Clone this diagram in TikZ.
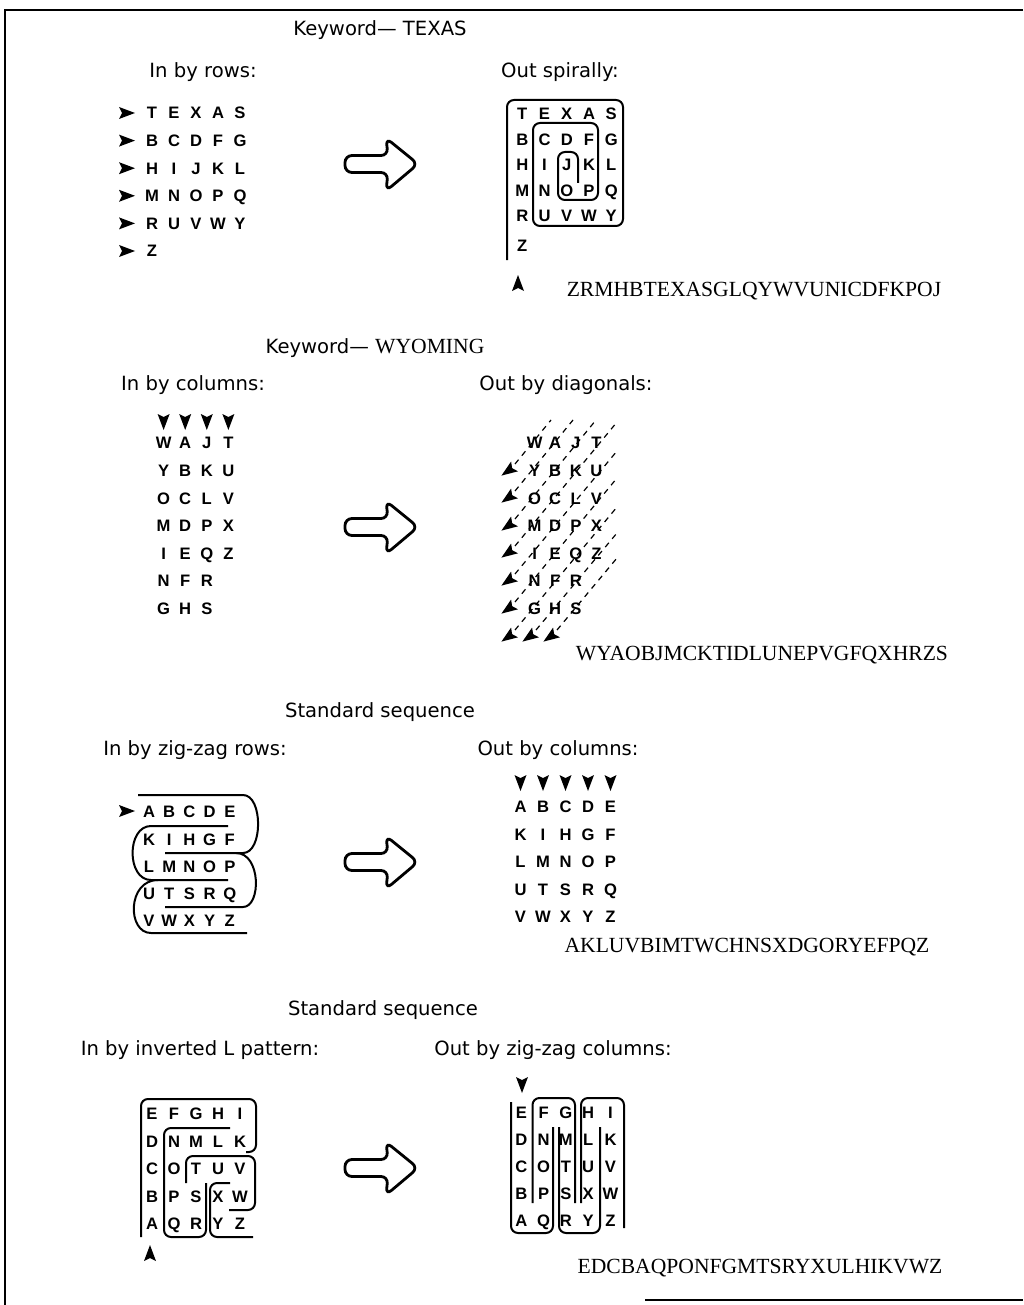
\documentclass[tikz,border=0pt]{standalone}
\usepackage{fontspec}
\setmainfont{DejaVu Sans}
\newfontfamily\gridfont{Liberation Sans}
\newfontfamily\outfont{Liberation Serif}

\begin{document}
\begin{tikzpicture}[x=0.5pt,y=-0.5pt,
  ltr/.style={font=\gridfont\bfseries\fontsize{8.3}{8}\selectfont, inner sep=0pt, text height=5.9pt, text depth=0pt},
  lbl/.style={font=\fontsize{9.8}{11}\selectfont, inner sep=0pt},
  outtxt/.style={font=\outfont\fontsize{10.8}{12}\selectfont, inner sep=0pt},
  band/.style={line width=1pt, rounded corners=3.5pt},
  diag/.style={line width=0.6pt, dash pattern=on 2.8pt off 2.6pt},
  arrowtip/.pic={\fill (-8,-6) -- (8,0) -- (-8,6) -- (-5,0) -- cycle;},
  bigarrow/.pic={\draw[line width=1.4pt, rounded corners=3.5pt] (8,-8.5) -- (-35,-8.5) -- (-35,8.5) -- (8,8.5) -- (6,27) -- (38,0) -- (6,-26) -- cycle;}
]
\useasboundingbox (0,0) rectangle (1023,1305);
% Frame
\draw[line width=1pt] (1023,10) -- (5,10) -- (5,1305);
\draw[line width=1pt] (645,1300) -- (1023,1300);

% Keyword TEXAS
\node[lbl] (kw1) at (380,30) {Keyword— TEXAS};
\node[lbl] (in1) at (203,72) {In by rows:};
\node[lbl] (out1) at (560,72) {Out spirally:};
\foreach \row [count=\i] in {{T,E,X,A,S},{B,C,D,F,G},{H,I,J,K,L},{M,N,O,P,Q},{R,U,V,W,Y},{Z}} {
  \pic at (127,{85.4+27.6*\i}) {arrowtip};
  \foreach \ch [count=\j] in \row
    \node[ltr] (ra-\i-\j) at ({130+22*\j},{85.4+27.6*\i}) {\ch};
}
\foreach \row [count=\i] in {{T,E,X,A,S},{B,C,D,F,G},{H,I,J,K,L},{M,N,O,P,Q},{R,U,V,W,Y}}
  \foreach \ch [count=\j] in \row
    \node[ltr] (sp-\i-\j) at ({500+22.25*\j},{88.5+25.5*\i}) {\ch};
\node[ltr] (sp-6-1) at (522.25,246) {Z};
% spiral
\draw[band] (507,260) -- (507,100) -- (623,100) -- (623,226) -- (533,226) -- (533,123) -- (598,123) -- (598,200) -- (558,200) -- (558,152) -- (578,152) -- (578,183);
\pic[rotate=90] at (518,283) {arrowtip};
\pic at (380,164) {bigarrow};
\node[outtxt] (res1) at (754,291) {ZRMHBTEXASGLQYWVUNICDFKPOJ};

% Keyword WYOMING
\node[lbl] (kw2) at (375,348) {Keyword— {\outfont\fontsize{10.8}{12}\selectfont WYOMING}};
\node[lbl] (in2) at (193,385) {In by columns:};
\node[lbl] (out2) at (566,385) {Out by diagonals:};
\foreach \row [count=\i] in {{W,A,J,T},{Y,B,K,U},{O,C,L,V},{M,D,P,X},{I,E,Q,Z},{N,F,R},{G,H,S}} {
  \foreach \ch [count=\j] in \row {
    \node[ltr] (co-\i-\j) at ({142+21.6*\j},{415.4+27.6*\i}) {\ch};
    \node[ltr] (dg-\i-\j) at ({514+20.6*\j},{415.4+27.6*\i}) {\ch};
  }
}
\foreach \j in {1,...,4}
  \pic[rotate=-90] at ({142+21.6*\j},422) {arrowtip};
% diagonals
\foreach \ax/\ay/\ex/\ey in {508/471/551/420, 508/498/573/420, 508/526/596/420, 508/553/617/422, 508/581/617/451, 508/609/617/478, 508/637/617/507, 529/637/617/533, 550/637/617/558} {
  \pic[rotate=-145] at (\ax,\ay) {arrowtip};
  \draw[diag] (\ax+7,\ay-7) -- (\ex,\ey);
}
\pic at (380,527) {bigarrow};
\node[outtxt] (res2) at (762,655) {WYAOBJMCKTIDLUNEPVGFQXHRZS};

% Standard sequence, zig-zag rows
\node[lbl] (std1) at (380,712) {Standard sequence};
\node[lbl] (in3) at (195,750) {In by zig-zag rows:};
\node[lbl] (out3) at (558,750) {Out by columns:};
\foreach \row [count=\i] in {{A,B,C,D,E},{K,I,H,G,F},{L,M,N,O,P},{U,T,S,R,Q},{V,W,X,Y,Z}} {
  \foreach \ch [count=\j] in \row {
    \node[ltr] (zz-\i-\j) at ({128.8+20.2*\j},{784.8+27.2*\i}) {\ch};
    \node[ltr] (oc-\i-\j) at ({498+22.5*\j},{779.5+27.5*\i}) {\ch};
  }
}
\pic at (127,811) {arrowtip};
\foreach \j in {1,...,5}
  \pic[rotate=-90] at ({498+22.5*\j},783) {arrowtip};
\draw[band] (138,795) -- (236,795) to[out=0,in=0,looseness=1.2] (236,853) -- (165,853);
\draw[band] (236,853) to[out=0,in=0,looseness=1.2] (236,907) -- (165,907);
\draw[band] (228,826) -- (158,826) to[out=180,in=180,looseness=1.5] (158,880) -- (228,880);
\draw[band] (158,880) to[out=180,in=180,looseness=1.5] (158,933) -- (247,933);
\pic at (380,862) {bigarrow};
\node[outtxt] (res3) at (747,947) {AKLUVBIMTWCHNSXDGORYEFPQZ};

% Standard sequence, inverted L
\node[lbl] (std2) at (383,1010) {Standard sequence};
\node[lbl] (in4) at (200,1050) {In by inverted L pattern:};
\node[lbl] (out4) at (553,1050) {Out by zig-zag columns:};
\foreach \row [count=\i] in {{E,F,G,H,I},{D,N,M,L,K},{C,O,T,U,V},{B,P,S,X,W},{A,Q,R,Y,Z}} {
  \foreach \ch [count=\j] in \row {
    \node[ltr] (il-\i-\j) at ({130+22*\j},{1086.5+27.5*\i}) {\ch};
    \node[ltr] (zc-\i-\j) at ({499+22.3*\j},{1085.5+27*\i}) {\ch};
  }
}
\draw[band] (141,1237) -- (141,1099) -- (256,1099) -- (256,1152) -- (246,1152);
\draw[band] (230,1128) -- (164,1128) -- (164,1237) -- (206,1237) -- (206,1183);
\draw[band] (230,1183) -- (210,1183) -- (210,1237) -- (253,1237);
\draw[band] (186,1183) -- (186,1156) -- (255,1156) -- (255,1210) -- (229,1210);
\pic[rotate=90] at (150,1253) {arrowtip};
% zig-zag columns
\draw[band] (511,1102) -- (511,1233) -- (553,1233) -- (553,1127);
\draw[band] (559,1127) -- (559,1233) -- (600,1233) -- (600,1127);
\draw[band] (532.5,1203) -- (532.5,1098) -- (575,1098) -- (575,1203);
\draw[band] (581,1203) -- (581,1098) -- (624,1098) -- (624,1228);
\pic[rotate=-90] at (522,1085) {arrowtip};
\pic at (380,1168) {bigarrow};
\node[outtxt] (res4) at (760,1268) {EDCBAQPONFGMTSRYXULHIKVWZ};
\end{tikzpicture}
\end{document}
